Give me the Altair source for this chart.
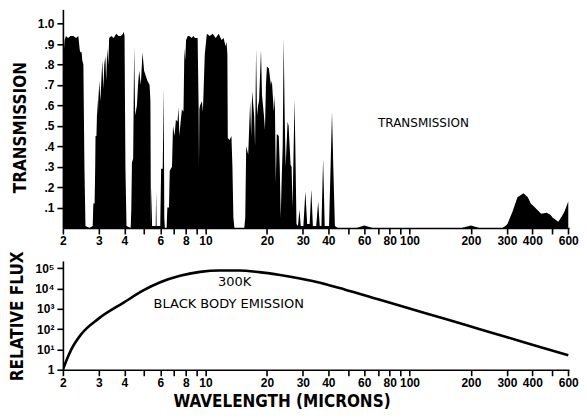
import altair as alt
import pandas as pd

# ---- Transmission spectrum (wavelength in microns, transmission 0..1)
BAND_A_WL = [2.00, 2.02, 2.04, 2.07, 2.12, 2.18, 2.25, 2.32, 2.38, 2.42, 2.44, 2.47, 2.49, 2.52,
             2.55, 2.58, 2.70, 2.80, 2.82, 2.86, 2.88, 2.89, 2.92, 2.95, 2.97, 2.98, 3.02, 3.05,
             3.08, 3.12, 3.16, 3.19, 3.23, 3.26, 3.30, 3.34, 3.37, 3.45, 3.55, 3.65, 3.75, 3.85,
             3.94, 3.98, 4.01, 4.05, 4.10]
BAND_A_T = [.81, .86, .92, .94, .93, .94, .94, .93, .94, .87, .86, .86, .82, .80,
            .30, .01, .00, .01, .12, .12, .30, .45, .45, .63, .55, .62, .72, .62,
            .70, .82, .68, .80, .84, .72, .88, .80, .93, .94, .93, .95, .94, .94,
            .95, .96, .94, .30, .01]

BAND_B_WL = [4.30, 4.33, 4.36, 4.42, 4.47, 4.52, 4.61, 4.67, 4.73, 4.82, 4.91, 5.00, 5.19, 5.32,
             5.37, 5.40, 5.44, 5.47, 5.70, 5.73, 5.76, 6.00, 6.06, 6.17, 6.24, 6.28, 6.32, 6.45,
             6.50, 6.62, 6.68, 6.85, 6.93, 7.05, 7.16, 7.29, 7.37, 7.45, 7.52, 7.66, 7.80, 7.88,
             7.95, 8.03, 8.19, 8.33, 8.56, 8.71, 8.88, 9.15]
BAND_B_T = [.00, .10, .32, .34, .89, .55, .60, .70, .77, .70, .86, .77, .72, .70,
            .62, .02, .20, .01, .01, .18, .01, .01, .29, .29, .69, .05, .00, .00,
            .10, .10, .28, .30, .50, .45, .53, .52, .59, .45, .50, .58, .57, .88,
            .82, .92, .94, .94, .93, .94, .93, .93]

BAND_C_WL = [9.25, 9.29, 9.33, 9.40, 9.60, 9.71, 9.92, 10.15, 10.49, 10.85, 11.22, 11.60, 11.99,
             12.26, 12.54, 12.68, 12.80, 12.86, 13.11, 13.40, 13.55, 13.70, 13.86]
BAND_C_T = [.60, .30, .58, .60, .62, .57, .85, .95, .94, .95, .93, .95, .92,
            .93, .89, .91, .85, .44, .43, .45, .30, .05, .00]

BAND_D_WL = [15.49, 15.66, 15.83, 16.19, 16.55, 16.74, 16.93, 17.31, 17.50, 17.70, 17.89, 18.10,
             18.30, 18.71, 18.92, 19.34, 19.56, 19.78, 20.00, 20.45, 20.91, 21.15, 21.62, 21.86,
             22.11, 22.36, 22.86, 23.12, 23.37, 23.64, 23.90, 24.16, 24.44, 24.70, 25.26, 25.55,
             26.12, 26.42, 26.71, 27.31, 27.61, 27.92, 28.40, 28.87, 29.30, 30.18, 30.87, 31.50,
             32.40, 33.00, 33.60, 34.88, 35.67, 36.30, 37.00, 37.71, 38.40, 40.32, 41.69, 42.30,
             43.08, 44.55]
BAND_D_T = [.00, .05, .40, .36, .62, .45, .67, .55, .40, .88, .55, .60,
            .62, .87, .65, .55, .48, .70, .79, .78, .70, .72, .57, .65,
            .22, .46, .45, .30, .05, .25, .40, .93, .55, .30, .52, .50,
            .31, .30, .10, .63, .35, .02, .01, .09, .01, .01, .18, .02,
            .02, .19, .01, .01, .13, .01, .01, .34, .01, .01, .57, .30,
            .01, .00]

BAND_E_WL = [55, 60, 66, 180, 200, 220, 285, 295, 302, 320, 338, 362, 380, 393, 412, 442, 470,
             490, 504, 536, 560, 575, 600]
BAND_E_T = [.00, .012, .00, .00, .012, .00, .00, .01, .02, .08, .15, .17, .15, .12, .10, .07, .075,
            .065, .05, .03, .06, .08, .13]

# ---- 300 K black body curve
BB_WL = [2.0, 2.1, 2.2, 2.47, 2.98, 3.97, 4.98, 6.0, 7.5, 9.4, 11.7, 14.6, 18.3, 22.8, 28.6,
         33, 40, 48, 69.5, 100, 146, 211, 304, 440, 600]
BB_FLUX = [1, 3.55, 10, 58.9, 316, 1995, 8128, 19953, 41687, 64565, 75858, 75858, 63096, 46774,
           31623, 23442, 14791, 8913, 2985, 1021, 335, 113, 38.5, 12.9, 5.18]

X_TICKS = [2, 3, 4, 5, 6, 7, 8, 9, 10, 20, 30, 40, 50, 60, 70, 80, 90, 100, 200, 300, 400, 500, 600]
Y_TICKS_T = [0.1, 0.2, 0.3, 0.4, 0.5, 0.6, 0.7, 0.8, 0.9, 1.0]
Y_TICKS_F = [1, 10, 100, 1000, 10000, 100000]

TOP_NOTE = [{"wl": 117, "t": 0.515, "label": "TRANSMISSION"}]
BOT_NOTES = [{"wl": 13.9, "flux": 21400, "label": "300K"},
             {"wl": 13.0, "flux": 1780, "label": "BLACK BODY EMISSION"}]

wl, tr = [], []
for w, t in [(BAND_A_WL, BAND_A_T), (BAND_B_WL, BAND_B_T), (BAND_C_WL, BAND_C_T),
             (BAND_D_WL, BAND_D_T), (BAND_E_WL, BAND_E_T)]:
    assert len(w) == len(t)
    wl += w
    tr += t
df_t = pd.DataFrame({"wl": wl, "t": tr})
df_bb = pd.DataFrame({"wl": BB_WL, "flux": BB_FLUX})

TITLE_FONT = "Liberation Sans Narrow, DejaVu Sans Condensed, sans-serif"
LABEL_FONT = "Liberation Sans, DejaVu Sans, sans-serif"
NOTE_FONT = "DejaVu Sans, sans-serif"

W, H_TOP, H_BOT = 507, 219, 109
x_scale = alt.Scale(type="log", domain=[2, 605], nice=False)
x_label_expr = "indexof([5,7,9,50,70,90,500], datum.value) >= 0 ? '' : format(datum.value, 'd')"

common_axis = dict(domainColor="black", domainWidth=1.6, tickColor="black", tickWidth=1.6,
                   tickSize=6, labelColor="black", labelFont=LABEL_FONT, labelFontSize=12,
                   labelFontWeight="bold", titleColor="black", titleFont=TITLE_FONT,
                   titleFontSize=17, titleFontWeight="bold", grid=False)

x_top = alt.X("wl:Q", scale=x_scale,
              axis=alt.Axis(values=X_TICKS, labelExpr=x_label_expr, title=None, labelPadding=2,
                            labelFlush=False, labelOverlap=False, **common_axis))
y_top = alt.Y("t:Q", scale=alt.Scale(domain=[0, 1.07], nice=False, zero=True),
              axis=alt.Axis(values=Y_TICKS_T,
                            labelExpr="datum.value >= 1 ? '1.0' : '.' + format(round(datum.value*10), 'd')",
                            title="TRANSMISSION", titleX=-42, titleY=118, titleAngle=270,
                            titleAlign="center", titleBaseline="middle", labelPadding=3,
                            **common_axis))

top_area = alt.Chart(df_t).mark_area(color="black", interpolate="linear", clip=True).encode(
    x=x_top, y=y_top)
top_text = alt.Chart(pd.DataFrame(TOP_NOTE)).mark_text(
    font=NOTE_FONT, fontSize=12, color="black", align="center", baseline="middle").encode(
    x=x_top, y=y_top, text="label:N")
top = alt.layer(top_area, top_text).properties(width=W, height=H_TOP)

flux_label_expr = ("datum.value == 1 ? '1\u00a0\u00a0\u00a0' : datum.value == 10 ? '10\u00b9' : "
                   "datum.value == 100 ? '10\u00b2' : datum.value == 1000 ? '10\u00b3' : "
                   "datum.value == 10000 ? '10\u2074' : '10\u2075'")

x_bot = alt.X("wl:Q", scale=x_scale,
              axis=alt.Axis(values=X_TICKS, labelExpr=x_label_expr, title="WAVELENGTH (MICRONS)",
                            titleX=219, titleY=32, titleAlign="center", titleBaseline="middle",
                            labelPadding=2, labelFlush=False, labelOverlap=False, **common_axis))
y_bot = alt.Y("flux:Q", scale=alt.Scale(type="log", domain=[1, 223872], nice=False),
              axis=alt.Axis(values=Y_TICKS_F, labelExpr=flux_label_expr, title="RELATIVE FLUX",
                            titleX=-45, titleY=55, titleAngle=270, titleAlign="center",
                            titleBaseline="middle", labelPadding=3, **common_axis))

bot_line = alt.Chart(df_bb).mark_line(color="black", strokeWidth=2.6, interpolate="monotone",
                                      clip=True).encode(x=x_bot, y=y_bot)
bot_text = alt.Chart(pd.DataFrame(BOT_NOTES)).mark_text(
    font=NOTE_FONT, fontSize=13, color="black", align="center", baseline="middle").encode(
    x=x_bot, y=y_bot, text="label:N")
bottom = alt.layer(bot_line, bot_text).properties(width=W, height=H_BOT)

chart = alt.vconcat(top, bottom, spacing=33, bounds="flush").properties(
    padding={"left": 0, "top": 1, "right": 0, "bottom": 0},
    background="white",
).configure_view(stroke=None)

chart.save("out.html", embed_options={"renderer": "svg", "actions": False})
